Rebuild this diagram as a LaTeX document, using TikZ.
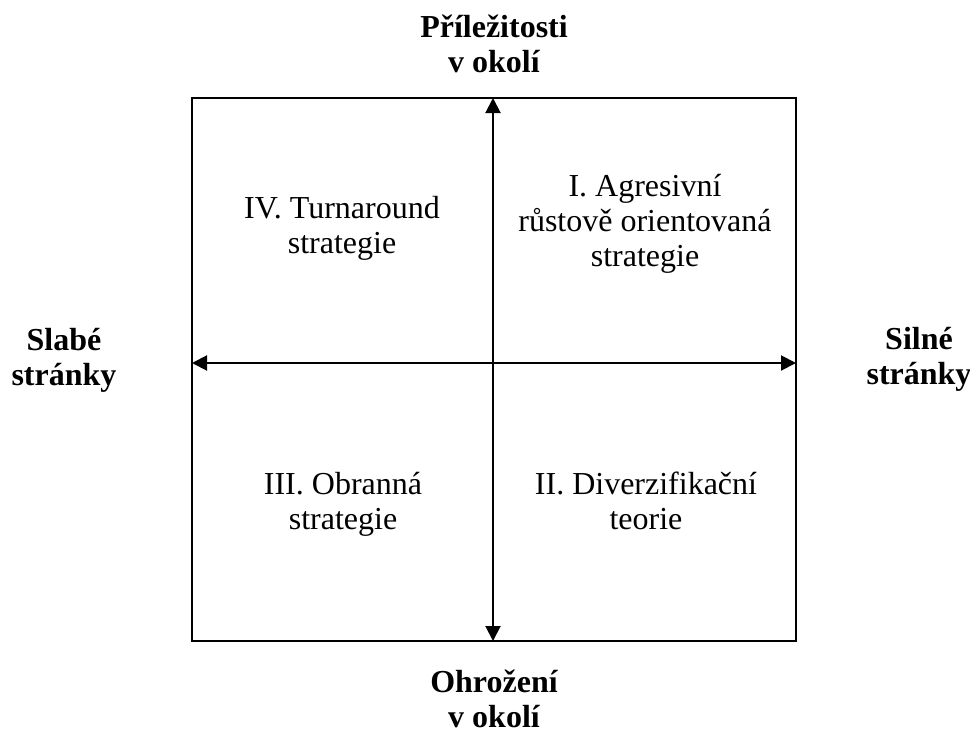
\documentclass[tikz,border=0pt]{standalone}
\usepackage{fontspec}
\setmainfont{Liberation Serif}
\usetikzlibrary{arrows.meta}
\begin{document}
\begin{tikzpicture}[x=1pt,y=-1pt,
  lbl/.style={align=center,font=\fontsize{32}{35}\selectfont\bfseries,anchor=base},
  qtxt/.style={align=center,font=\fontsize{32}{35}\selectfont,anchor=base},
  axis/.style={line width=2pt,{Triangle[length=15pt,width=15pt]}-{Triangle[length=15pt,width=15pt]}}]
\useasboundingbox (0,0) rectangle (970,736);
\node[draw,line width=2pt,minimum width=604pt,minimum height=543pt,inner sep=0pt] (box) at (494,369.5) {};
\coordinate (top) at (493,98);
\coordinate (bot) at (493,641);
\coordinate (lft) at (192,363);
\coordinate (rgt) at (796,363);
\draw[axis] (bot) -- (top);
\draw[axis] (lft) -- (rgt);
\node[lbl] (opp) at (494,72) {Příležitosti\\v okolí};
\node[lbl] (thr) at (494,727) {Ohrožení\\v okolí};
\node[lbl] (weak) at (64,385) {Slabé\\stránky};
\node[lbl] (strong) at (919,384) {Silné\\stránky};
\node[qtxt] (q4) at (342,253) {IV. Turnaround\\strategie};
\node[qtxt] (q1) at (645,266) {I. Agresivní\\růstově orientovaná\\strategie};
\node[qtxt] (q3) at (343,529) {III. Obranná\\strategie};
\node[qtxt] (q2) at (646,529) {II. Diverzifikační\\teorie};
\end{tikzpicture}
\end{document}
